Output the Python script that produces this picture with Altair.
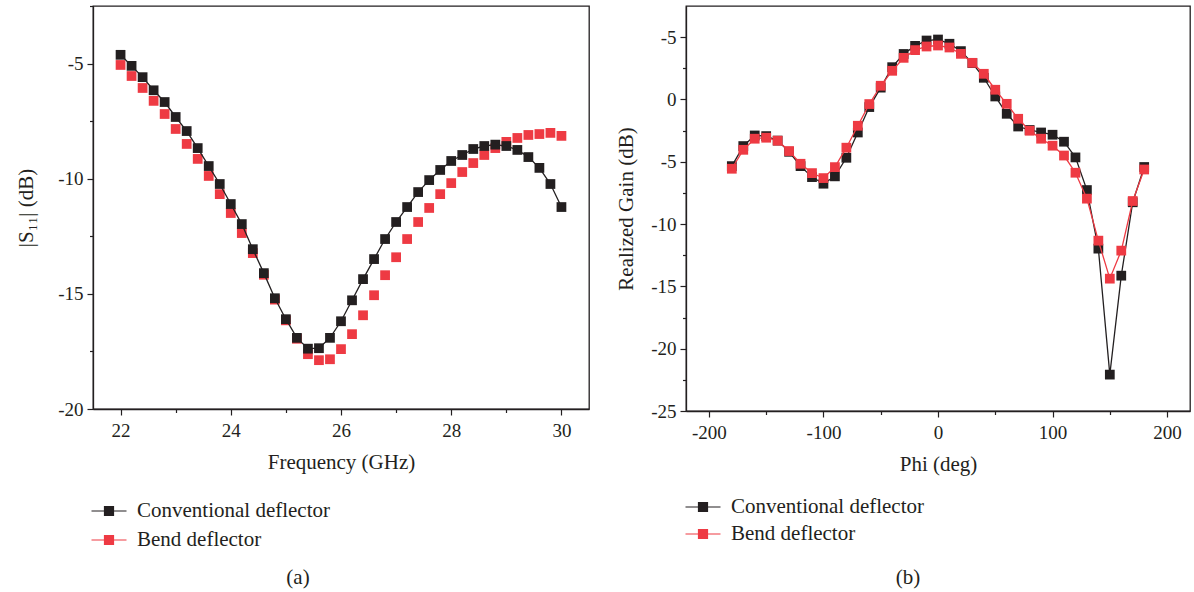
import altair as alt
import pandas as pd

SERIES = ["Conventional deflector", "Bend deflector"]
COLORS = ["#231f20", "#ee3a43"]

# ---- (a) |S11| vs frequency ----
freq = [22.0, 22.2, 22.4, 22.6, 22.8, 23.0, 23.2, 23.4, 23.6, 23.8,
        24.0, 24.2, 24.4, 24.6, 24.8, 25.0, 25.2, 25.4, 25.6, 25.8,
        26.0, 26.2, 26.4, 26.6, 26.8, 27.0, 27.2, 27.4, 27.6, 27.8,
        28.0, 28.2, 28.4, 28.6, 28.8, 29.0, 29.2, 29.4, 29.6, 29.8, 30.0]
s11_conv = [-4.62, -5.10, -5.59, -6.16, -6.67, -7.32, -7.93, -8.67, -9.45, -10.23,
            -11.10, -11.97, -13.06, -14.10, -15.19, -16.10, -16.91, -17.38, -17.36, -16.91,
            -16.19, -15.28, -14.36, -13.49, -12.62, -11.88, -11.23, -10.58, -10.06, -9.62,
            -9.23, -8.97, -8.71, -8.58, -8.52, -8.58, -8.75, -9.06, -9.53, -10.23, -11.23]
s11_bend = [-5.06, -5.54, -6.06, -6.62, -7.19, -7.84, -8.49, -9.14, -9.88, -10.67,
            -11.49, -12.36, -13.23, -14.17, -15.25, -16.15, -16.95, -17.62, -17.88, -17.84,
            -17.40, -16.75, -15.93, -15.06, -14.19, -13.41, -12.62, -11.88, -11.27, -10.67,
            -10.19, -9.71, -9.32, -8.97, -8.67, -8.40, -8.23, -8.10, -8.06, -8.01, -8.14]

# ---- (b) realized gain vs phi ----
phi = [-180, -170, -160, -150, -140, -130, -120, -110, -100, -90,
       -80, -70, -60, -50, -40, -30, -20, -10, 0, 10,
       20, 30, 40, 50, 60, 70, 80, 90, 100, 110,
       120, 130, 140, 150, 160, 170, 180]
gain_conv = [-5.35, -3.74, -2.89, -2.94, -3.30, -4.20, -5.35, -6.23, -6.76, -6.17,
             -4.68, -2.65, -0.61, 0.95, 2.59, 3.65, 4.30, 4.73, 4.81, 4.47,
             3.88, 2.92, 1.74, 0.24, -1.15, -2.17, -2.45, -2.65, -2.83, -3.39,
             -4.65, -7.27, -11.97, -22.08, -14.14, -8.25, -5.42]
gain_bend = [-5.56, -4.04, -3.15, -3.07, -3.31, -4.14, -5.16, -5.91, -6.31, -5.43,
             -3.87, -2.11, -0.37, 1.10, 2.30, 3.34, 3.96, 4.25, 4.33, 4.17,
             3.66, 2.94, 2.06, 0.78, -0.35, -1.55, -2.51, -3.15, -3.71, -4.50,
             -5.88, -7.96, -11.33, -14.38, -12.13, -8.15, -5.62]

df_a = pd.concat([
    pd.DataFrame({"x": freq, "y": s11_bend, "series": SERIES[1]}),
    pd.DataFrame({"x": freq, "y": s11_conv, "series": SERIES[0]}),
])
df_b = pd.concat([
    pd.DataFrame({"x": phi, "y": gain_conv, "series": SERIES[0]}),
    pd.DataFrame({"x": phi, "y": gain_bend, "series": SERIES[1]}),
])

FONT = "Liberation Serif"
INK = "#231f20"
SYM = "M-1.75,0H1.75M-0.45,-0.45H0.45V0.45H-0.45Z"

scale = alt.Scale(domain=SERIES, range=COLORS)


def legend(x, y, rowpad):
    return alt.Legend(orient="none", legendX=x, legendY=y, symbolType=SYM,
                      symbolSize=400, symbolStrokeWidth=1.2, labelFont=FONT,
                      labelFontSize=21, labelColor=INK, labelOffset=17,
                      labelLimit=0, rowPadding=rowpad, padding=0)


def make(df, xdom, xvals, xmajor, ydom, yvals, ymajor, xtitle, ytitle,
         order, lined, w, h, lx, ly, rowpad, cap, capx, ytpad, ytop_label=None):
    xlab = "datum.value %% %s === 0 ? ((datum.value < 0 ? '-' : '') + abs(datum.value)) : ''" % xmajor
    ylab = "datum.value %% %s === 0 ? ((datum.value < 0 ? '-' : '') + abs(datum.value)) : ''" % ymajor
    if ytop_label is not None:
        ylab = "datum.value === %s ? '%s' : (%s)" % (ytop_label[0], ytop_label[1], ylab)
    xaxis = alt.Axis(values=xvals, labelExpr=xlab, title=xtitle,
                     tickSize={"condition": {"test": "datum.value %% %s === 0" % xmajor, "value": 6}, "value": 3.5},
                     labelPadding=6, titlePadding=11)
    yaxis = alt.Axis(values=yvals, labelExpr=ylab, title=ytitle,
                     tickSize={"condition": {"test": "datum.value %% %s === 0" % ymajor, "value": 6}, "value": 3.5},
                     labelPadding=4, titlePadding=ytpad)
    X = alt.X("x:Q", scale=alt.Scale(domain=xdom, nice=False, zero=False), axis=xaxis)
    Y = alt.Y("y:Q", scale=alt.Scale(domain=ydom, nice=False, zero=False), axis=yaxis)
    leg = legend(lx, ly, rowpad)
    layers = []
    for s in order:
        base = alt.Chart(df).transform_filter(alt.datum.series == s)
        if s in lined:
            layers.append(base.mark_line(strokeWidth=1.3).encode(
                x=X, y=Y, stroke=alt.Stroke("series:N", scale=scale, legend=leg, title=None)))
        layers.append(base.mark_point(shape="square", filled=True, size=95, strokeWidth=0, opacity=1).encode(
            x=X, y=Y,
            fill=alt.Fill("series:N", scale=scale, legend=leg, title=None),
            stroke=alt.Stroke("series:N", scale=scale, legend=leg, title=None)))
    caption = alt.Chart(pd.DataFrame({"t": [cap]})).mark_text(
        font=FONT, fontSize=21, color=INK, align="center", baseline="middle").encode(
        text="t:N", x=alt.value(capx), y=alt.value(572))
    layers.append(caption)
    return alt.layer(*layers).properties(width=w, height=h)


left = make(df_a, [21.5, 30.5], [22, 23, 24, 25, 26, 27, 28, 29, 30], 2,
            [-20, -2.5], [-20, -17.5, -15, -12.5, -10, -7.5, -5, -2.5], 5,
            "Frequency (GHz)", "|S₁₁| (dB)", [SERIES[1], SERIES[0]], [SERIES[0]],
            496, 403, 5, 494, 8, "(a)", 205, 21)
right = make(df_b, [-220, 220], [-200, -150, -100, -50, 0, 50, 100, 150, 200], 100,
             [-25, 7.5], [-25, -22.5, -20, -17.5, -15, -12.5, -10, -7.5, -5, -2.5, 0, 2.5, 5], 5,
             "Phi (deg)", "Realized Gain (dB)", [SERIES[0], SERIES[1]], SERIES,
             504, 405, 6, 490, 6, "(b)", 222, 14, ytop_label=(5, "-5"))

chart = alt.hconcat(left, right, spacing=25).resolve_scale(
    fill="independent", stroke="independent").resolve_legend(
    fill="independent", stroke="independent").properties(
    padding={"left": 15, "top": 4, "right": 0, "bottom": 0}
).configure_view(stroke=INK, strokeWidth=1.3).configure_axis(
    grid=False, domainColor=INK, domainWidth=1.3, tickColor=INK, tickWidth=1.2,
    labelFont=FONT, labelFontSize=19, labelColor=INK,
    titleFont=FONT, titleFontSize=21, titleFontWeight="normal", titleColor=INK
)

chart.save("out.html", embed_options={"renderer": "svg", "actions": False})
